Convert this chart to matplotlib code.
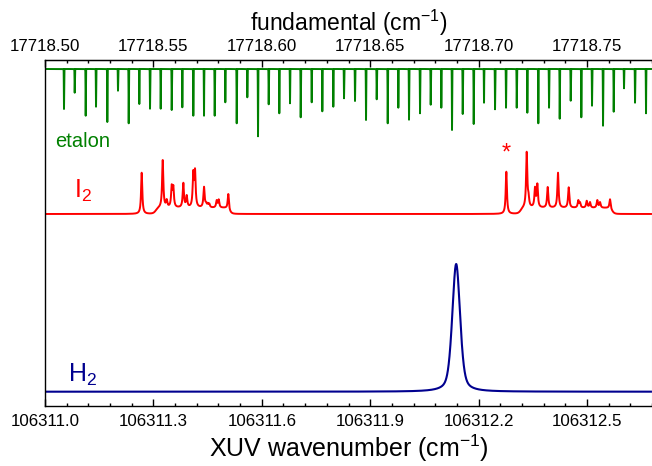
import numpy as np
import matplotlib
matplotlib.use("Agg")
import matplotlib.pyplot as plt
from matplotlib.ticker import FixedLocator, MultipleLocator, FormatStrFormatter

plt.rcParams['font.family'] = ['Liberation Sans', 'DejaVu Sans']
plt.rcParams['mathtext.fontset'] = 'custom'
plt.rcParams['mathtext.rm'] = 'Liberation Sans'
plt.rcParams['mathtext.it'] = 'Liberation Sans:italic'

# ---------------- data ----------------
HARMONIC = 6.0                     # XUV = 6 x fundamental
x_range = [106311.0, 106312.68]    # XUV wavenumber range (cm-1)
xuv_ticks = [106311.0, 106311.3, 106311.6, 106311.9, 106312.2, 106312.5]
fund_ticks = [17718.50, 17718.55, 17718.60, 17718.65, 17718.70, 17718.75]

# etalon transmission dips (fundamental cm-1) and their depths (arb.)
etalon_fund = [17718.50876, 17718.51370, 17718.51877, 17718.52353, 17718.52874,
               17718.53367, 17718.53861, 17718.54350, 17718.54844, 17718.55337,
               17718.55845, 17718.56334, 17718.56841, 17718.57335, 17718.57828,
               17718.58317, 17718.58843, 17718.59332, 17718.59826, 17718.60319,
               17718.60808, 17718.61302, 17718.61795, 17718.62303, 17718.62792,
               17718.63299, 17718.63793, 17718.64300, 17718.64808, 17718.65301,
               17718.65809, 17718.66298, 17718.66791, 17718.67299, 17718.67792,
               17718.68281, 17718.68775, 17718.69269, 17718.69776, 17718.70251,
               17718.70759, 17718.71266, 17718.71760, 17718.72249, 17718.72756,
               17718.73250, 17718.73743, 17718.74250, 17718.74739, 17718.75233,
               17718.75741, 17718.76234, 17718.76709, 17718.77217, 17718.77724]
etalon_depth = [40, 23.7, 46.7, 37.7, 53, 21.7, 54.3, 35, 39.7, 39.7,
                41, 38.3, 46.7, 46.7, 46.7, 33.3, 54.3, 28.3, 67.3, 35.3,
                44.3, 34.3, 48.3, 33.3, 42.3, 37.7, 29.3, 32, 51, 30.3,
                54.3, 38.7, 50.7, 44.3, 35.7, 38.7, 61, 45, 55, 33.7,
                40.3, 38.7, 38.7, 43.7, 54.3, 38.7, 49.7, 31.7, 48.3, 36.7,
                56.7, 42.7, 19.3, 33.7, 44.3]

# I2 reference lines (XUV-scale cm-1) and peak heights (arb.)
i2_pos = [106311.2676, 106311.3258, 106311.3368, 106311.3507, 106311.3551,
          106311.3828, 106311.3922, 106311.4104, 106311.4152, 106311.4401,
          106311.4456, 106311.4503, 106311.4547, 106311.4752, 106311.4808,
          106311.5073,
          106312.2768, 106312.3332, 106312.3382, 106312.3562, 106312.3626,
          106312.3913, 106312.4198, 106312.4494, 106312.4760, 106312.4807,
          106312.4993, 106312.5084, 106312.5286, 106312.5361, 106312.5638]
i2_height = [41.3, 54, 15, 29.7, 29, 31.3, 19, 44, 45.7, 27.3, 12.3, 11.3, 10.7,
             14, 14.7, 20,
             42.3, 62.3, 22, 27.3, 30.7, 27, 41.3, 26.7, 14, 12, 13.3, 12, 14,
             12, 14.7]
# broad pedestals under the I2 line groups: start, end, level
i2_ped_start = [106311.307, 106312.317]
i2_ped_end = [106311.509, 106312.569]
i2_ped_level = [6, 6]

# H2 line
h2_center = 106312.138
h2_fwhm = 0.0257
h2_height = 127.7

# vertical offsets of the three traces
etalon_offset = 337
i2_offset = 192
h2_offset = 14.3

# ---------------- traces ----------------
x = np.linspace(x_range[0], x_range[1], 40000)
et_x = np.array(etalon_fund) * HARMONIC
x = np.unique(np.concatenate([x, et_x, np.array(i2_pos), [h2_center]]))


def lor(xx, c, w):
    return 1.0 / (1.0 + ((xx - c) / (w / 2.0)) ** 2)


# etalon: very narrow dips
etalon = np.full_like(x, float(etalon_offset))
for c, d in zip(et_x, etalon_depth):
    etalon -= d * np.exp(-0.5 * ((x - c) / 0.0004) ** 2)

# I2
def pedestal(xx):
    out = np.zeros_like(xx)
    s = 0.007
    for a, b, h in zip(i2_ped_start, i2_ped_end, i2_ped_level):
        out += h * 0.5 * (np.tanh((xx - a) / s) - np.tanh((xx - b) / s))
    return out

w_i2 = 0.0040
pos = np.array(i2_pos)
A = lor(pos[:, None], pos[None, :], w_i2)
amps = np.linalg.solve(A, np.array(i2_height) - pedestal(pos))
amps = np.clip(amps, 0, None)
i2 = i2_offset + pedestal(x)
for c, a in zip(pos, amps):
    i2 += a * lor(x, c, w_i2)

# H2 (pseudo-Voigt)
sig = h2_fwhm / 2.3548
eta = 0.45
h2 = h2_offset + h2_height * (eta * lor(x, h2_center, h2_fwhm)
                              + (1 - eta) * np.exp(-0.5 * ((x - h2_center) / sig) ** 2))

# ---------------- figure ----------------
fig = plt.figure(figsize=(6.52, 4.66), dpi=100)
ax = fig.add_axes([45 / 652, 60 / 466, 607 / 652, 346 / 466])

ax.plot(x, etalon, color='#008000', lw=1.4)
ax.plot(x, i2, color='#ff0000', lw=1.4)
ax.plot(x, h2, color='#00008f', lw=1.5)

ax.set_xlim(*x_range)
ax.set_ylim(0, 346)
ax.set_yticks([])

ax.xaxis.set_major_locator(FixedLocator(xuv_ticks))
ax.xaxis.set_minor_locator(MultipleLocator(0.06))
ax.xaxis.set_major_formatter(FormatStrFormatter('%.1f'))
ax.tick_params(axis='x', which='major', direction='in', length=5, width=1,
               labelsize=12.2, pad=5.5)
ax.tick_params(axis='x', which='minor', direction='in', length=2.5, width=1)
ax.set_xlabel('XUV wavenumber (cm$^{-1}$)', fontsize=18, labelpad=3)

for s in ['left', 'bottom', 'top']:
    ax.spines[s].set_linewidth(1.0)
ax.spines['right'].set_color('#d0d0d0')

sec = ax.secondary_xaxis('top', functions=(lambda v: v / HARMONIC,
                                           lambda f: f * HARMONIC))
sec.xaxis.set_major_locator(FixedLocator(fund_ticks))
sec.xaxis.set_minor_locator(MultipleLocator(0.01))
sec.xaxis.set_major_formatter(FormatStrFormatter('%.2f'))
sec.tick_params(axis='x', which='major', direction='in', length=5, width=1,
                labelsize=12.2, pad=4)
sec.tick_params(axis='x', which='minor', direction='in', length=2.5, width=1)
sec.set_xlabel('fundamental (cm$^{-1}$)', fontsize=16.5, labelpad=6)

# trace labels
ax.text(10 / 607, (406 - 147) / 346, 'etalon', transform=ax.transAxes,
        color='#008000', fontsize=14.5, va='baseline', ha='left')
ax.text(29 / 607, (406 - 198) / 346, r'I$_\mathrm{2}$', transform=ax.transAxes,
        color='#ff0000', fontsize=18, va='baseline', ha='left')
ax.text(23 / 607, (406 - 382) / 346, r'H$_\mathrm{2}$', transform=ax.transAxes,
        color='#00008f', fontsize=18, va='baseline', ha='left')
ax.text(i2_pos[16], i2_offset + i2_height[16] + 18, '*', color='#ff0000',
        fontsize=17, ha='center', va='center')

fig.savefig('out.png', dpi=100)
